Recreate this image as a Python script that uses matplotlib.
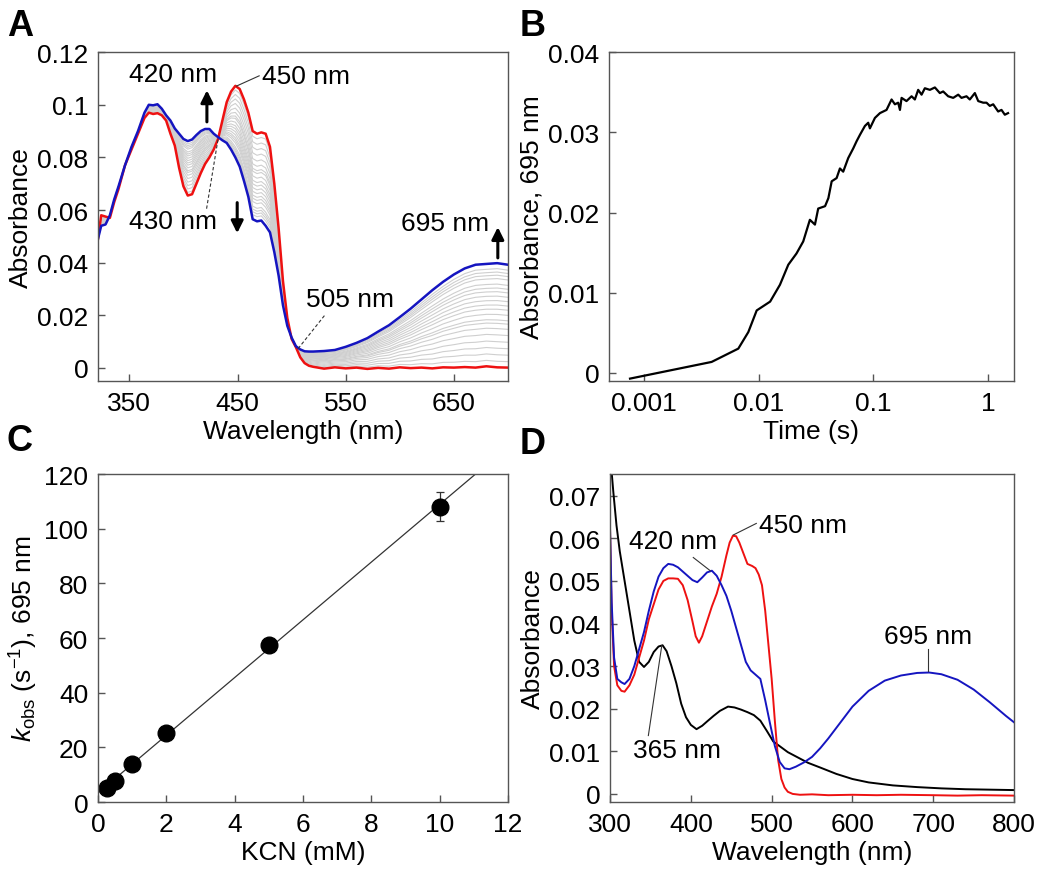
import numpy as np
import matplotlib
matplotlib.use("Agg")
import matplotlib.pyplot as plt
from matplotlib.ticker import NullLocator

plt.rcParams['font.family'] = ['Liberation Sans', 'DejaVu Sans']
plt.rcParams['font.size'] = 19
plt.rcParams['mathtext.fontset'] = 'custom'
plt.rcParams['mathtext.rm'] = 'Liberation Sans'
plt.rcParams['mathtext.it'] = 'Liberation Sans:italic'

# ---------------- Panel A data ----------------
wl_A = [321, 324, 328, 332, 336, 340, 346, 352, 358, 364, 368, 372, 376, 380, 384, 388,
        392, 396, 400, 404, 408, 412, 416, 420, 424, 428, 432, 436, 440, 444, 448, 452,
        456, 460, 464, 468, 472, 476, 480, 484, 488, 492, 496, 500, 504, 508, 512, 516,
        520, 530, 540, 550, 560, 570, 580, 590, 600, 610, 620, 630, 640, 650, 660, 670,
        680, 690, 700]
red_A = [0.049, 0.058, 0.0575, 0.057, 0.063, 0.068, 0.077, 0.083, 0.089, 0.095, 0.097,
         0.0965, 0.0968, 0.096, 0.094, 0.089, 0.0845, 0.076, 0.069, 0.0655, 0.066, 0.070,
         0.074, 0.0775, 0.080, 0.083, 0.087, 0.094, 0.101, 0.105, 0.1072, 0.106, 0.102,
         0.097, 0.090, 0.089, 0.0895, 0.089, 0.084, 0.070, 0.053, 0.033, 0.019, 0.011,
         0.0078, 0.004, 0.0018, 0.0008, 0.0004, -0.0003, 0.0002, -0.0002, 0.0001, -0.0004,
         0.0, -0.0003, 0.0002, -0.0001, 0.0001, -0.0002, 0.0002, 0.0001, 0.0003, 0.0001,
         0.0006, 0.0002, 0.0001]
blue_A = [0.049, 0.054, 0.0545, 0.058, 0.064, 0.069, 0.077, 0.084, 0.090, 0.097, 0.100,
          0.0998, 0.1002, 0.0985, 0.096, 0.094, 0.091, 0.089, 0.087, 0.0862, 0.0868,
          0.0885, 0.090, 0.0908, 0.0908, 0.089, 0.0877, 0.0865, 0.0855, 0.083, 0.080,
          0.0765, 0.071, 0.065, 0.0565, 0.0557, 0.056, 0.054, 0.0515, 0.044, 0.035,
          0.0238, 0.016, 0.0115, 0.0082, 0.007, 0.0063, 0.0062, 0.0062, 0.0064, 0.0068,
          0.008, 0.0095, 0.0113, 0.0138, 0.0162, 0.0193, 0.0225, 0.026, 0.0295, 0.0327,
          0.0355, 0.0378, 0.0392, 0.0395, 0.0398, 0.0392]
# absorbance at 695 nm of the intermediate (gray) spectra
gray_695 = [0.0023, 0.0048, 0.0073, 0.0098, 0.0124, 0.0148, 0.0168, 0.0181, 0.0202,
            0.0222, 0.0238, 0.0255, 0.0272, 0.0289, 0.0303, 0.0318, 0.0339, 0.0352,
            0.0364, 0.0377]
final_695 = 0.0398

# ---------------- Panel B data ----------------
time_B = [0.000755, 0.00389, 0.00665, 0.00813, 0.00962, 0.0126, 0.01535, 0.01815, 0.0214,
          0.0245, 0.028, 0.031, 0.0331, 0.038, 0.0406, 0.0434, 0.0479, 0.0512, 0.0547,
          0.0605, 0.0669, 0.0716, 0.0766, 0.0846, 0.0904, 0.0935, 0.1034, 0.1144, 0.1306,
          0.1445, 0.1545, 0.165, 0.171, 0.1767, 0.195, 0.216, 0.2307, 0.2466, 0.264, 0.282,
          0.312, 0.345, 0.381, 0.4075, 0.4505, 0.4984, 0.5512, 0.589, 0.651, 0.696, 0.77,
          0.824, 0.91, 0.973, 1.04, 1.113, 1.23, 1.315, 1.406, 1.50]
abs_B = [-0.0007, 0.00138, 0.00304, 0.0051, 0.0078, 0.0089, 0.011, 0.0135, 0.0149, 0.0164,
         0.0191, 0.0185, 0.0205, 0.0208, 0.0218, 0.0239, 0.0243, 0.0255, 0.0251, 0.0268,
         0.028, 0.0289, 0.0297, 0.0308, 0.0312, 0.0305, 0.0318, 0.0324, 0.0328, 0.0341,
         0.0335, 0.0337, 0.0328, 0.0343, 0.0339, 0.0345, 0.0341, 0.0353, 0.0347, 0.0355,
         0.0353, 0.0356, 0.0349, 0.0351, 0.0345, 0.0343, 0.0347, 0.0343, 0.0345, 0.0341,
         0.0349, 0.0339, 0.0337, 0.0337, 0.0333, 0.0335, 0.0326, 0.0328, 0.0322, 0.0324]

# ---------------- Panel C data ----------------
kcn_mM = [0.25, 0.5, 1, 2, 5, 10]
kobs = [5.3, 7.7, 13.8, 25.4, 57.4, 108.1]
kobs_err = [0, 0, 0, 0, 0, 5.2]

# ---------------- Panel D data ----------------
wl_black = [300, 304, 308, 312, 318, 324, 330, 336, 342, 348, 354, 360, 365, 370, 376, 382,
            388, 394, 400, 407, 414, 420, 428, 436, 446, 454, 462, 470, 478, 486, 494, 502,
            510, 520, 530, 545, 560, 580, 600, 620, 650, 680, 710, 740, 770, 800]
abs_black = [0.080, 0.071, 0.063, 0.057, 0.050, 0.043, 0.036, 0.031, 0.0298, 0.031, 0.0333,
             0.0346, 0.0349, 0.0335, 0.030, 0.026, 0.0212, 0.018, 0.0162, 0.0152, 0.016,
             0.017, 0.0183, 0.0195, 0.0205, 0.0203, 0.0198, 0.0192, 0.0185, 0.0172, 0.0148,
             0.0123, 0.0112, 0.0098, 0.0088, 0.0073, 0.0062, 0.0047, 0.0035, 0.0027, 0.0020,
             0.0016, 0.0013, 0.0011, 0.0010, 0.0009]
wl_blue = [300, 302, 305, 309, 314, 318, 324, 330, 336, 342, 348, 354, 360, 366, 372, 378,
           384, 390, 396, 402, 408, 414, 420, 426, 432, 438, 444, 450, 456, 462, 468, 474,
           480, 486, 492, 498, 504, 510, 516, 522, 530, 540, 550, 560, 570, 580, 600, 620,
           640, 660, 680, 695, 710, 730, 750, 770, 790, 800]
abs_blue = [0.062, 0.045, 0.032, 0.027, 0.0262, 0.0258, 0.027, 0.030, 0.034, 0.038, 0.043,
            0.0475, 0.051, 0.053, 0.054, 0.0538, 0.0532, 0.0522, 0.0512, 0.0502, 0.0497,
            0.0508, 0.052, 0.0524, 0.0512, 0.049, 0.0465, 0.043, 0.039, 0.035, 0.031,
            0.029, 0.028, 0.027, 0.022, 0.0165, 0.0112, 0.0075, 0.006, 0.0058, 0.0064,
            0.0074, 0.0087, 0.0107, 0.013, 0.0155, 0.0205, 0.0242, 0.0266, 0.0278, 0.0284,
            0.0285, 0.0281, 0.0268, 0.0245, 0.0215, 0.0183, 0.0168]
wl_red = [300, 302, 305, 309, 314, 318, 324, 330, 336, 342, 348, 354, 360, 366, 372, 378,
          384, 390, 396, 402, 406, 410, 414, 420, 426, 432, 438, 444, 448, 452, 456, 460,
          465, 470, 476, 480, 484, 488, 492, 496, 500, 504, 508, 512, 516, 520, 526, 535,
          550, 570, 600, 630, 660, 700, 730, 760, 800]
abs_red = [0.062, 0.043, 0.030, 0.0255, 0.0242, 0.024, 0.0255, 0.028, 0.032, 0.036, 0.041,
           0.0445, 0.048, 0.050, 0.0506, 0.0506, 0.0505, 0.049, 0.0455, 0.0405, 0.037,
           0.0355, 0.037, 0.0405, 0.044, 0.047, 0.051, 0.056, 0.059, 0.0606, 0.0605,
           0.059, 0.0565, 0.054, 0.0535, 0.053, 0.0515, 0.049, 0.043, 0.035, 0.027, 0.017,
           0.008, 0.0035, 0.0015, 0.0005, 0.0, -0.0002, -0.0001, -0.0003, -0.0002, -0.0003,
           -0.0002, -0.0003, -0.0004, -0.0003, -0.0004]

RED = '#ee1111'
BLUE = '#1515c0'
SPINE = '#555555'


def style(ax):
    for s in ax.spines.values():
        s.set_color(SPINE)
        s.set_linewidth(1.0)
    ax.tick_params(direction='in', length=5, width=1, color=SPINE, labelsize=19, pad=7)


fig = plt.figure(figsize=(10.5, 8.7), dpi=100)

# ---------------- Panel A ----------------
axA = fig.add_axes([0.0933, 0.5609, 0.3905, 0.378])
red = np.array(red_A)
blue = np.array(blue_A)
for v in gray_695:
    f = v / final_695
    axA.plot(wl_A, red + f * (blue - red), color='#cfcfcf', lw=0.8)
axA.plot(wl_A, red_A, color=RED, lw=1.8)
axA.plot(wl_A, blue_A, color=BLUE, lw=1.8)
axA.set_xlim(321, 700)
axA.set_ylim(-0.005, 0.12)
axA.set_xticks([350, 450, 550, 650])
axA.set_yticks([0, 0.02, 0.04, 0.06, 0.08, 0.1, 0.12])
axA.set_yticklabels(['0', '0.02', '0.04', '0.06', '0.08', '0.1', '0.12'])
axA.set_xlabel('Wavelength (nm)', labelpad=3)
axA.set_ylabel('Absorbance', labelpad=3)
style(axA)
arrow_kw = dict(arrowstyle='-|>', lw=2.2, color='black', mutation_scale=18, shrinkA=0, shrinkB=0)
axA.annotate('', xy=(421.7, 0.1055), xytext=(421.7, 0.0935), arrowprops=arrow_kw)
axA.annotate('', xy=(449.7, 0.0512), xytext=(449.7, 0.0628), arrowprops=arrow_kw)
axA.annotate('', xy=(690.6, 0.0535), xytext=(690.6, 0.0418), arrowprops=arrow_kw)
axA.text(390.3, 0.1118, '420 nm', ha='center', va='center')
axA.text(472.5, 0.111, '450 nm', ha='left', va='center')
axA.plot([449, 470], [0.1071, 0.111], color='#333333', lw=0.8)
axA.text(390.3, 0.0559, '430 nm', ha='center', va='center')
axA.plot([421.4, 432], [0.0605, 0.087], color='#333333', lw=0.8, ls=(0, (3, 2)))
axA.text(641.6, 0.0552, '695 nm', ha='center', va='center')
axA.text(553.7, 0.0263, '505 nm', ha='center', va='center')
axA.plot([506, 530.6], [0.0073, 0.020], color='#333333', lw=0.8, ls=(0, (3, 2)))

# ---------------- Panel B ----------------
axB = fig.add_axes([0.58, 0.5609, 0.3857, 0.378])
axB.plot(time_B, abs_B, color='black', lw=1.6)
axB.set_xscale('log')
axB.set_xlim(0.000495, 1.69)
axB.set_ylim(-0.001, 0.04)
axB.set_xticks([0.001, 0.01, 0.1, 1])
axB.set_xticklabels(['0.001', '0.01', '0.1', '1'])
axB.xaxis.set_minor_locator(NullLocator())
axB.set_yticks([0, 0.01, 0.02, 0.03, 0.04])
axB.set_yticklabels(['0', '0.01', '0.02', '0.03', '0.04'])
axB.set_xlabel('Time (s)', labelpad=3)
axB.set_ylabel('Absorbance, 695 nm', labelpad=3)
style(axB)

# ---------------- Panel C ----------------
axC = fig.add_axes([0.0933, 0.077, 0.3905, 0.377])
slope, intercept = np.polyfit(kcn_mM, kobs, 1)
xfit = np.array([0.0, 12.0])
axC.plot(xfit, slope * xfit + intercept, color='#333333', lw=0.9)
axC.errorbar(kcn_mM, kobs, yerr=kobs_err, fmt='o', color='black', ms=12,
             ecolor='#333333', elinewidth=0.9, capsize=3, capthick=0.9)
axC.set_xlim(0, 12)
axC.set_ylim(0, 120)
axC.set_xticks(range(0, 13, 2))
axC.set_yticks(range(0, 121, 20))
axC.set_xlabel('KCN (mM)', labelpad=3)
axC.set_ylabel(r'$k_{\mathrm{obs}}$ (s$^{-1}$), 695 nm', labelpad=3)
style(axC)

# ---------------- Panel D ----------------
axD = fig.add_axes([0.581, 0.077, 0.3848, 0.377])
axD.plot(wl_black, abs_black, color='black', lw=1.4)
axD.plot(wl_red, abs_red, color=RED, lw=1.4)
axD.plot(wl_blue, abs_blue, color=BLUE, lw=1.4)
axD.set_xlim(300, 800)
axD.set_ylim(-0.0019, 0.0751)
axD.set_xticks(range(300, 801, 100))
axD.set_yticks([0, 0.01, 0.02, 0.03, 0.04, 0.05, 0.06, 0.07])
axD.set_yticklabels(['0', '0.01', '0.02', '0.03', '0.04', '0.05', '0.06', '0.07'])
axD.set_xlabel('Wavelength (nm)', labelpad=3)
axD.set_ylabel('Absorbance', labelpad=3)
style(axD)
lk = dict(color='#333333', lw=0.8)
axD.text(538.9, 0.0631, '450 nm', ha='center', va='center')
axD.plot([452.6, 481], [0.0608, 0.0635], **lk)
axD.text(378, 0.0594, '420 nm', ha='center', va='center')
axD.plot([403, 424], [0.0555, 0.0524], **lk)
axD.text(382.5, 0.0102, '365 nm', ha='center', va='center')
axD.plot([347.4, 364], [0.0137, 0.0348], **lk)
axD.text(694, 0.0371, '695 nm', ha='center', va='center')
axD.plot([693, 693], [0.034, 0.0288], **lk)

# panel letters
for lab, x, y in [('A', 0.019, 0.969), ('B', 0.5076, 0.969), ('C', 0.019, 0.493), ('D', 0.5076, 0.489)]:
    fig.text(x, y, lab, fontsize=26, fontweight='bold', ha='center', va='center')

fig.savefig('out.png', dpi=100)
